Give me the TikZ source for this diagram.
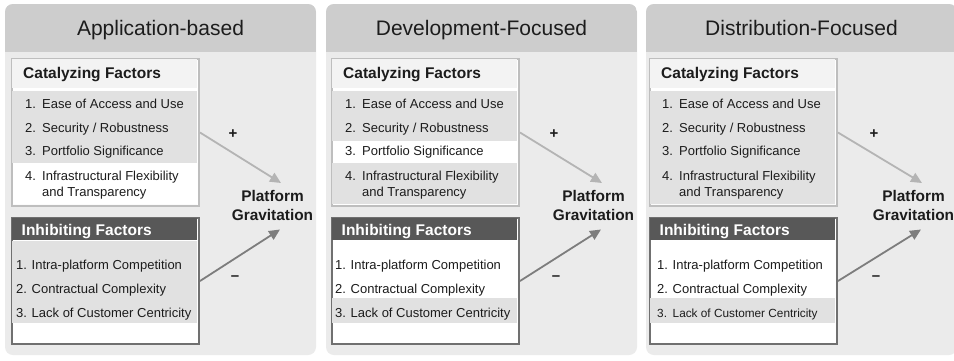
\documentclass[tikz,border=0pt]{standalone}
\usepackage{fontspec}
\setmainfont{Liberation Sans}
\usetikzlibrary{arrows.meta}

\definecolor{panelhead}{RGB}{205,205,205}
\definecolor{panelbody}{RGB}{235,235,235}
\definecolor{catline}{RGB}{190,190,190}
\definecolor{catband}{RGB}{243,243,243}
\definecolor{rowgray}{RGB}{225,225,225}
\definecolor{inhhead}{RGB}{88,88,88}
\definecolor{inhline}{RGB}{112,112,112}
\definecolor{pluscol}{RGB}{180,180,180}
\definecolor{minuscol}{RGB}{125,125,125}
\definecolor{ink}{RGB}{28,28,28}

\begin{document}
\begin{tikzpicture}[x=1pt,y=-1pt,
  paneltitle/.style={font=\fontsize{21}{24}\selectfont, text=ink, anchor=base, inner sep=0pt},
  boxhead/.style={font=\fontsize{15.5}{18}\selectfont\bfseries, anchor=base west, inner sep=0pt},
  item/.style={font=\fontsize{13}{15}\selectfont, text=ink, anchor=base west, inner sep=0pt},
  catbox/.style={fill=white, draw=catline, line width=2pt, minimum width=187pt,
    minimum height=147pt, inner sep=0pt, anchor=north west},
  inhbox/.style={fill=white, draw=inhline, line width=2pt, minimum width=187pt,
    minimum height=126pt, inner sep=0pt, anchor=north west},
  gravlabel/.style={font=\fontsize{15.4}{18.3}\selectfont\bfseries, text=ink,
    align=center, anchor=north, inner sep=0pt},
  signlabel/.style={font=\fontsize{15}{17}\selectfont\bfseries, text=ink, inner sep=0pt},
  posarrow/.style={draw=pluscol, line width=1.8pt, -{Triangle[length=11pt,width=10pt]}},
  negarrow/.style={draw=minuscol, line width=1.8pt, -{Triangle[length=11pt,width=10pt]}}
]
\useasboundingbox (0,0) rectangle (954,360);
\clip (0,0) rectangle (954,360);
\fill[white] (0,0) rectangle (954,360);

% one column per platform type
% \P panel left, \B box left, \cx catalyzing number x, \ix inhibiting number x,
% \ls size of the last inhibiting item, \ca/\cb white catalyzing row span, \ia start of grey inhibiting rows
\foreach \i/\P/\B/\cx/\ix/\ls/\ca/\cb/\ia/\title in {
  1/5/11/25/16/13/163/204/241/Application-based,
  2/326/331/345/335/13/141/163/298/Development-Focused,
  3/646/649/662/657/11.8/204/204/298/Distribution-Focused}{
  % panel background with its header band
  \fill[panelbody, rounded corners=8pt] (\P,4) rectangle (\P+311,355);
  \begin{scope}
    \clip[rounded corners=8pt] (\P,4) rectangle (\P+311,355);
    \fill[panelhead] (\P,4) rectangle (\P+311,52);
  \end{scope}
  \node[paneltitle] (title\i) at (\P+155.5,35) {\title};

  % catalyzing factors box
  \node[catbox] (cat\i) at (\B,58) {};
  \fill[catband] (\B+1,59) rectangle (\B+186,88);
  \fill[rowgray] (\B+1,91) rectangle (\B+186,\ca);
  \fill[rowgray] (\B+1,\cb) rectangle (\B+186,204);
  \node[boxhead, text=ink] (cath\i) at (\B+12,78) {Catalyzing Factors};
  \node[item] (ca\i) at (\cx,108) {\makebox[17pt][l]{1.}Ease of Access and Use};
  \node[item] (cb\i) at (\cx,132) {\makebox[17pt][l]{2.}Security / Robustness};
  \node[item] (cc\i) at (\cx,155.5) {\makebox[17pt][l]{3.}Portfolio Significance};
  \node[item] (cd\i) at (\cx,180) {\makebox[17pt][l]{4.}Infrastructural Flexibility};
  \node[item] (ce\i) at (\cx+17,196.5) {and Transparency};

  % inhibiting factors box
  \node[inhbox] (inh\i) at (\B,217) {};
  \fill[inhhead] (\B+1,218) rectangle (\B+186,240);
  \fill[rowgray] (\B+1,\ia) rectangle (\B+186,323);
  \node[boxhead, text=white] (inhh\i) at (\B+10.5,235) {Inhibiting Factors};
  \node[item] (ia\i) at (\ix,269.3) {\makebox[15.5pt][l]{1.}Intra-platform Competition};
  \node[item] (ib\i) at (\ix,293.3) {\makebox[15.5pt][l]{2.}Contractual Complexity};
  \node[item, font=\fontsize{\ls}{15}\selectfont] (ic\i) at (\ix,317.3)
    {\makebox[15.5pt][l]{3.}Lack of Customer Centricity};

  % effect on platform gravitation
  \node[gravlabel] (grav\i) at (\P+267.5,190.6) {Platform\\Gravitation};
  \coordinate (tipc\i) at (\P+276,183);
  \coordinate (tipi\i) at (\P+275,229.5);
  \draw[posarrow] (cat\i.east) -- (tipc\i);
  \draw[negarrow] (inh\i.east) -- (tipi\i);
  \node[signlabel] (plus\i) at (\P+228,134) {+};
  \node[signlabel] (minus\i) at (\P+230,278) {–};
}
\end{tikzpicture}
\end{document}
